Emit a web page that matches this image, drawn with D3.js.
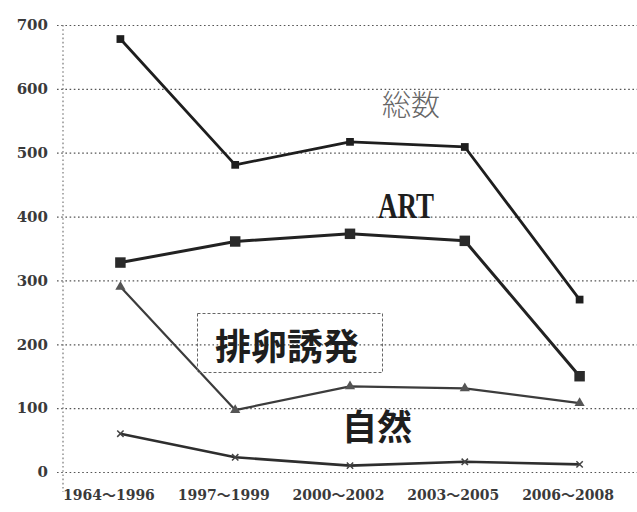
<!DOCTYPE html>
<html>
<head>
<meta charset="utf-8">
<script src="https://cdn.jsdelivr.net/npm/d3@7/dist/d3.min.js"></script>
<style>
  html, body { margin: 0; padding: 0; background: #fff; }
  svg { display: block; }
</style>
</head>
<body>
<svg id="chart" width="637" height="512"></svg>
<script>
// Periods on the category axis
const periods = ["1964〜1996", "1997〜1999", "2000〜2002", "2003〜2005", "2006〜2008"];
// Counts per period
const artCounts = [328, 361, 373, 362, 150];        // ART
const ovulationCounts = [290, 97, 134, 131, 108];   // 排卵誘発
const naturalCounts = [60, 23, 10, 16, 12];         // 自然
const totalCounts = [678, 481, 517, 509, 270];      // 総数
// Value axis ticks
const yTicks = [0, 100, 200, 300, 400, 500, 600, 700];

const svg = d3.select("#chart");
const gridLeft = 57, axisX = 63, plotRight = 637, plotTop = 25, plotBottom = 472;

const x = d3.scalePoint().domain(periods).range([axisX, plotRight]).padding(0.5);
const y = d3.scaleLinear().domain([0, 700]).range([plotBottom, plotTop]);

// Horizontal dotted gridlines with value labels
const yAxis = svg.append("g")
  .attr("transform", `translate(${gridLeft},0)`)
  .call(d3.axisLeft(y).tickValues(yTicks).tickSizeInner(-(plotRight - gridLeft)).tickSizeOuter(0).tickPadding(9));
yAxis.select(".domain").remove();
yAxis.selectAll(".tick line")
  .attr("stroke", "#555").attr("stroke-width", 1.2).attr("stroke-dasharray", "1.6,2.6");
yAxis.selectAll(".tick text")
  .attr("fill", "#3a3a3a")
  .style("font-family", "'DejaVu Serif', serif")
  .style("font-weight", "bold")
  .style("font-size", "15px");

// Dotted vertical axis
svg.append("line")
  .attr("x1", axisX).attr("x2", axisX)
  .attr("y1", plotTop).attr("y2", 492)
  .attr("stroke", "#777").attr("stroke-width", 1.2).attr("stroke-dasharray", "1.6,2.6");

// Category labels
const xAxis = svg.append("g")
  .attr("transform", `translate(0,${plotBottom})`)
  .call(d3.axisBottom(x).tickSize(0).tickPadding(18));
xAxis.select(".domain").remove();
xAxis.selectAll(".tick text")
  .attr("dx", -12)
  .attr("fill", "#3a3a3a")
  .style("font-family", "'DejaVu Serif', 'Noto Sans CJK JP', serif")
  .style("font-weight", "bold")
  .style("font-size", "14px");

const line = d3.line().x((d, i) => x(periods[i])).y(d => y(d));

const series = [
  { values: naturalCounts,   stroke: "#2e2e2e", width: 2.6, symbol: d3.symbolX,        size: 28,  fill: "#444" },
  { values: ovulationCounts, stroke: "#3c3c3c", width: 2.2, symbol: d3.symbolTriangle, size: 45,  fill: "#555" },
  { values: artCounts,       stroke: "#222",    width: 3.0, symbol: d3.symbolSquare,   size: 110, fill: "#2a2a2a" },
  { values: totalCounts,     stroke: "#1e1e1e", width: 2.8, symbol: d3.symbolSquare,   size: 60,  fill: "#1e1e1e" }
];

series.forEach(s => {
  svg.append("path")
    .datum(s.values)
    .attr("d", line)
    .attr("fill", "none")
    .attr("stroke", s.stroke)
    .attr("stroke-width", s.width)
    .attr("stroke-linejoin", "round");
  svg.append("g").selectAll("path")
    .data(s.values)
    .join("path")
    .attr("transform", (d, i) => `translate(${x(periods[i])},${y(d)})`)
    .attr("d", d3.symbol().type(s.symbol).size(s.size))
    .attr("fill", s.fill)
    .attr("stroke", s.symbol === d3.symbolX ? s.fill : "none")
    .attr("stroke-width", 1.5);
});

// Series labels placed in the plot
svg.append("text")
  .attr("x", 382).attr("y", 116)
  .attr("fill", "#666")
  .style("font-family", "'Noto Sans CJK JP', sans-serif")
  .style("font-weight", "300")
  .style("font-size", "29px")
  .text("総数");

svg.append("text")
  .attr("x", 378).attr("y", 218)
  .attr("textLength", 56).attr("lengthAdjust", "spacingAndGlyphs")
  .attr("fill", "#1e1e1e")
  .style("font-family", "'Liberation Serif', serif")
  .style("font-weight", "bold")
  .style("font-size", "36px")
  .text("ART");

svg.append("rect")
  .attr("x", 197.5).attr("y", 313.5)
  .attr("width", 185).attr("height", 59)
  .attr("fill", "none")
  .attr("stroke", "#666").attr("stroke-width", 1).attr("stroke-dasharray", "3,2");

svg.append("text")
  .attr("x", 215).attr("y", 360)
  .attr("fill", "#1e1e1e")
  .style("font-family", "'Noto Sans CJK JP', sans-serif")
  .style("font-weight", "bold")
  .style("font-size", "36px")
  .text("排卵誘発");

svg.append("text")
  .attr("x", 342).attr("y", 440)
  .attr("fill", "#1e1e1e")
  .style("font-family", "'Noto Sans CJK JP', sans-serif")
  .style("font-weight", "bold")
  .style("font-size", "35px")
  .text("自然");
</script>
</body>
</html>
